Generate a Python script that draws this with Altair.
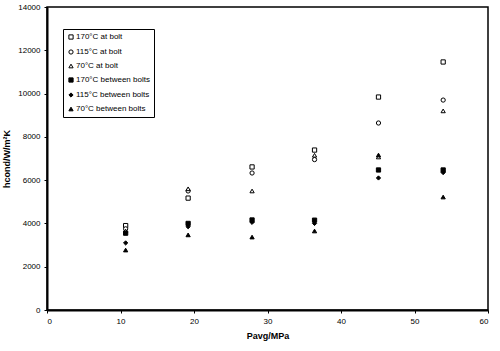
import altair as alt
import pandas as pd

pressure = [10.7, 19.2, 27.9, 36.4, 45.1, 53.9]
series_names = ["170°C at bolt", "115°C at bolt", "70°C at bolt",
                "170°C between bolts", "115°C between bolts", "70°C between bolts"]
h_170_bolt = [3900, 5170, 6610, 7390, 9840, 11460]
h_115_bolt = [3750, 5500, 6330, 6950, 8640, 9700]
h_70_bolt = [3650, 5600, 5500, 7150, 7070, 9200]
h_170_between = [3550, 4000, 4160, 4150, 6470, 6470]
h_115_between = [3100, 3850, 4050, 4000, 6100, 6350]
h_70_between = [2770, 3470, 3370, 3650, 7160, 5220]

all_vals = [h_170_bolt, h_115_bolt, h_70_bolt, h_170_between, h_115_between, h_70_between]
rows = []
for name, vals in zip(series_names, all_vals):
    for p, h in zip(pressure, vals):
        rows.append({"P": p, "h": h, "series": name})
df = pd.DataFrame(rows)

shapes = ["square", "circle", "triangle-up", "square", "diamond", "triangle-up"]
fills = ["white", "white", "white", "black", "black", "black"]
strokes = ["black"] * 6

legend = alt.Legend(title=None, orient="none", legendX=16, legendY=22,
                    strokeColor="black", fillColor="white", padding=4,
                    labelFont="Liberation Sans", labelFontSize=8, labelColor="black",
                    symbolSize=18, symbolStrokeWidth=1,
                    rowPadding=5, symbolOffset=0, labelOffset=1, cornerRadius=0)

chart = alt.Chart(df).mark_point(filled=True, strokeWidth=1,
                                 size=18, opacity=1).encode(
    x=alt.X("P:Q", scale=alt.Scale(domain=[0, 60], nice=False),
            axis=alt.Axis(values=[0, 10, 20, 30, 40, 50, 60], title="Pavg/MPa",
                          grid=False, format="d")),
    y=alt.Y("h:Q", scale=alt.Scale(domain=[0, 14000], nice=False),
            axis=alt.Axis(values=list(range(0, 14001, 2000)), title="hcond/W/m²K",
                          grid=False, format="d")),
    shape=alt.Shape("series:N", sort=series_names,
                    scale=alt.Scale(domain=series_names, range=shapes), legend=legend),
    fill=alt.Fill("series:N", sort=series_names,
                  scale=alt.Scale(domain=series_names, range=fills), legend=legend),
    stroke=alt.Stroke("series:N", sort=series_names,
                      scale=alt.Scale(domain=series_names, range=strokes), legend=legend),
).properties(
    width=441, height=303,
    autosize=alt.AutoSizeParams(type="none"),
    padding={"left": 47, "top": 7, "right": 12, "bottom": 41},
).configure_view(
    stroke="black", strokeWidth=1.5
).configure_axis(
    domainColor="black", domainWidth=2, tickColor="black", tickSize=3,
    labelFont="Liberation Sans", labelFontSize=8, labelColor="black",
    titleFont="Liberation Sans", titleFontSize=9, titleFontWeight="bold",
    titleColor="black", labelPadding=4
).configure_axisY(titlePadding=6).configure_axisX(titlePadding=6)

chart.save("out.html", embed_options={"renderer": "svg", "actions": False})
